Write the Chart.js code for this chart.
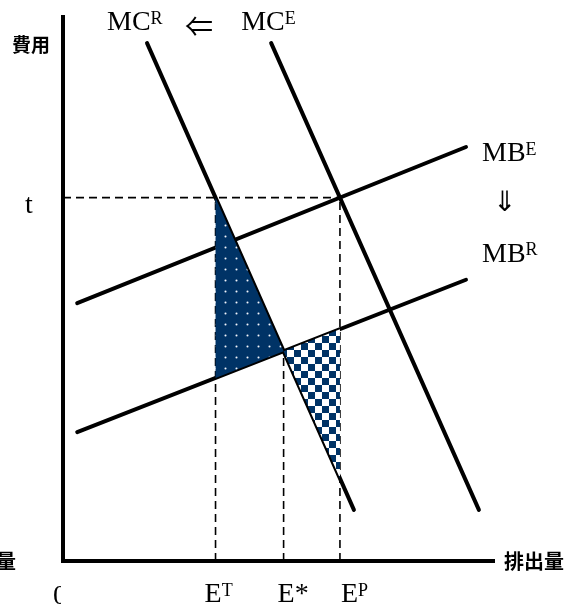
<!DOCTYPE html>
<html>
<head>
<meta charset="utf-8">
<script src="https://cdn.jsdelivr.net/npm/chart.js@4"></script>
<style>
  body { margin: 0; background: #fff; }
</style>
</head>
<body>
<canvas id="costChart" width="580" height="605"></canvas>
<script>
// curve end points as [emissions, cost]
const mcR = [[19.5, 95.2], [67.5, 9.4]];
const mcE = [[48.3, 95.2], [96.5, 9.4]];
const mbE = [[3.3, 47.4], [93.5, 76.1]];
const mbR = [[3.3, 23.7], [93.5, 51.7]];

const curveLabels = [["MC", "R"], ["MC", "E"], ["MB", "E"], ["MB", "R"]];
const pointLabels = [["E", "T"], ["E*", ""], ["E", "P"]];
const axisLabels = ["費用", "排出量", "t", "0"];

const navy = "#003366";
const serif = '"Liberation Serif", "DejaVu Serif", serif';
const gothic = '"Noto Sans CJK JP", "Noto Sans", sans-serif';

// straight line helpers
function slope(l) { return (l[1][1] - l[0][1]) / (l[1][0] - l[0][0]); }
function yAt(l, x) { return l[0][1] + slope(l) * (x - l[0][0]); }
function xAt(l, y) { return l[0][0] + (y - l[0][1]) / slope(l); }
function cross(a, b) {
  const ma = slope(a), mb = slope(b);
  const x = (b[0][1] - a[0][1] + ma * a[0][0] - mb * b[0][0]) / (ma - mb);
  return [x, yAt(a, x)];
}

// tax level and emission levels
const [eP, t] = cross(mcE, mbE);
const eT = xAt(mcR, t);
const [eS, yS] = cross(mcR, mbR);

const toXY = pts => pts.map(([x, y]) => ({ x, y }));

// fill patterns
function dotPattern() {
  const c = document.createElement("canvas");
  c.width = 11; c.height = 11;
  const g = c.getContext("2d");
  g.fillStyle = navy;
  g.fillRect(0, 0, 11, 11);
  const r = g.createRadialGradient(5.5, 5.5, 0, 5.5, 5.5, 1.8);
  r.addColorStop(0, "#f4f6fa");
  r.addColorStop(0.45, "rgba(190,204,222,0.85)");
  r.addColorStop(1, "rgba(0,51,102,0)");
  g.fillStyle = r;
  g.fillRect(3, 3, 5, 5);
  return g.createPattern(c, "repeat");
}
function checkPattern() {
  const c = document.createElement("canvas");
  c.width = 14; c.height = 14;
  const g = c.getContext("2d");
  g.fillStyle = "#fff";
  g.fillRect(0, 0, 14, 14);
  g.fillStyle = navy;
  g.fillRect(0, 0, 7, 7);
  g.fillRect(7, 7, 7, 7);
  return g.createPattern(c, "repeat");
}

function solid(pts) {
  return {
    data: toXY(pts), showLine: true, borderColor: "#000", borderWidth: 4,
    borderCapStyle: "round", pointRadius: 0, fill: false
  };
}
function dashed(pts) {
  return {
    data: toXY(pts), showLine: true, borderColor: "#000", borderWidth: 1.6,
    borderDash: [8, 5], pointRadius: 0, fill: false
  };
}
function patch(pts, pattern) {
  return {
    data: toXY(pts), showLine: true, borderColor: "rgba(0,0,0,0)", borderWidth: 1,
    pointRadius: 0, fill: "shape", backgroundColor: pattern
  };
}

const datasets = [
  patch([[eT, t], [eT, yAt(mbR, eT)], [eS, yS]], dotPattern()),
  patch([[eS, yS], [eP, yAt(mbR, eP)], [eP, yAt(mcR, eP)]], checkPattern()),
  dashed([[0, t], [eP, t]]),
  dashed([[eT, 0], [eT, t]]),
  dashed([[eS, 0], [eS, yS]]),
  dashed([[eP, 0], [eP, t]]),
  solid(mcR),
  solid(mcE),
  solid(mbE),
  solid(mbR)
];

function supText(ctx, x, y, main, sup) {
  ctx.font = "28px " + serif;
  ctx.fillText(main, x, y);
  const w = ctx.measureText(main).width;
  if (sup) {
    ctx.font = "18px " + serif;
    ctx.fillText(sup, x + w, y - 6.5);
  }
}

const labelPlugin = {
  id: "diagramLabels",
  afterDraw(chart) {
    const { ctx, scales: { x, y } } = chart;
    ctx.save();
    ctx.fillStyle = "#000";
    ctx.textAlign = "left";
    ctx.textBaseline = "alphabetic";

    // curve names
    supText(ctx, x.getPixelForValue(mcR[0][0]) - 40, 30, curveLabels[0][0], curveLabels[0][1]);
    supText(ctx, x.getPixelForValue(mcE[0][0]) - 30, 30, curveLabels[1][0], curveLabels[1][1]);
    supText(ctx, x.getPixelForValue(mbE[1][0]) + 16, y.getPixelForValue(mbE[1][1]) + 14, curveLabels[2][0], curveLabels[2][1]);
    supText(ctx, x.getPixelForValue(mbR[1][0]) + 16, y.getPixelForValue(mbR[1][1]) - 18, curveLabels[3][0], curveLabels[3][1]);

    // shift arrows
    ctx.font = "28px " + gothic;
    ctx.textAlign = "center";
    ctx.textBaseline = "middle";
    ctx.fillText("⇐", 199, 26);
    ctx.fillText("⇓", 504, 200);
    ctx.textAlign = "left";
    ctx.textBaseline = "alphabetic";

    // emission levels under the axis
    const base = 602;
    supText(ctx, x.getPixelForValue(eT) - 11, base, pointLabels[0][0], pointLabels[0][1]);
    supText(ctx, x.getPixelForValue(eS) - 6, base, pointLabels[1][0], pointLabels[1][1]);
    supText(ctx, x.getPixelForValue(eP) + 1, base, pointLabels[2][0], pointLabels[2][1]);

    // tax level
    supText(ctx, 25, y.getPixelForValue(t) + 15, axisLabels[2], "");

    // origin, cut by its text box
    ctx.save();
    ctx.beginPath();
    ctx.rect(0, 570, 61, 40);
    ctx.clip();
    supText(ctx, 53, 604, axisLabels[3], "");
    ctx.restore();

    // axis names
    ctx.font = "bold 19px " + gothic;
    ctx.textBaseline = "middle";
    ctx.fillText(axisLabels[0], 12, 45);
    ctx.font = "bold 20px " + gothic;
    ctx.fillText(axisLabels[1], 504, y.getPixelForValue(0));
    ctx.fillText("量", -4, y.getPixelForValue(0));
    ctx.restore();
  }
};

const axisOpts = {
  type: "linear", min: 0, max: 100,
  grid: { display: false, drawTicks: false },
  ticks: { display: false },
  border: { display: true, color: "#000", width: 4 }
};

new Chart(document.getElementById("costChart").getContext("2d"), {
  type: "scatter",
  data: { datasets },
  options: {
    responsive: false,
    animation: false,
    layout: { padding: { left: 63, right: 86, top: 17, bottom: 44 } },
    scales: { x: axisOpts, y: axisOpts },
    plugins: { legend: { display: false }, tooltip: { enabled: false } }
  },
  plugins: [labelPlugin]
});
</script>
</body>
</html>
